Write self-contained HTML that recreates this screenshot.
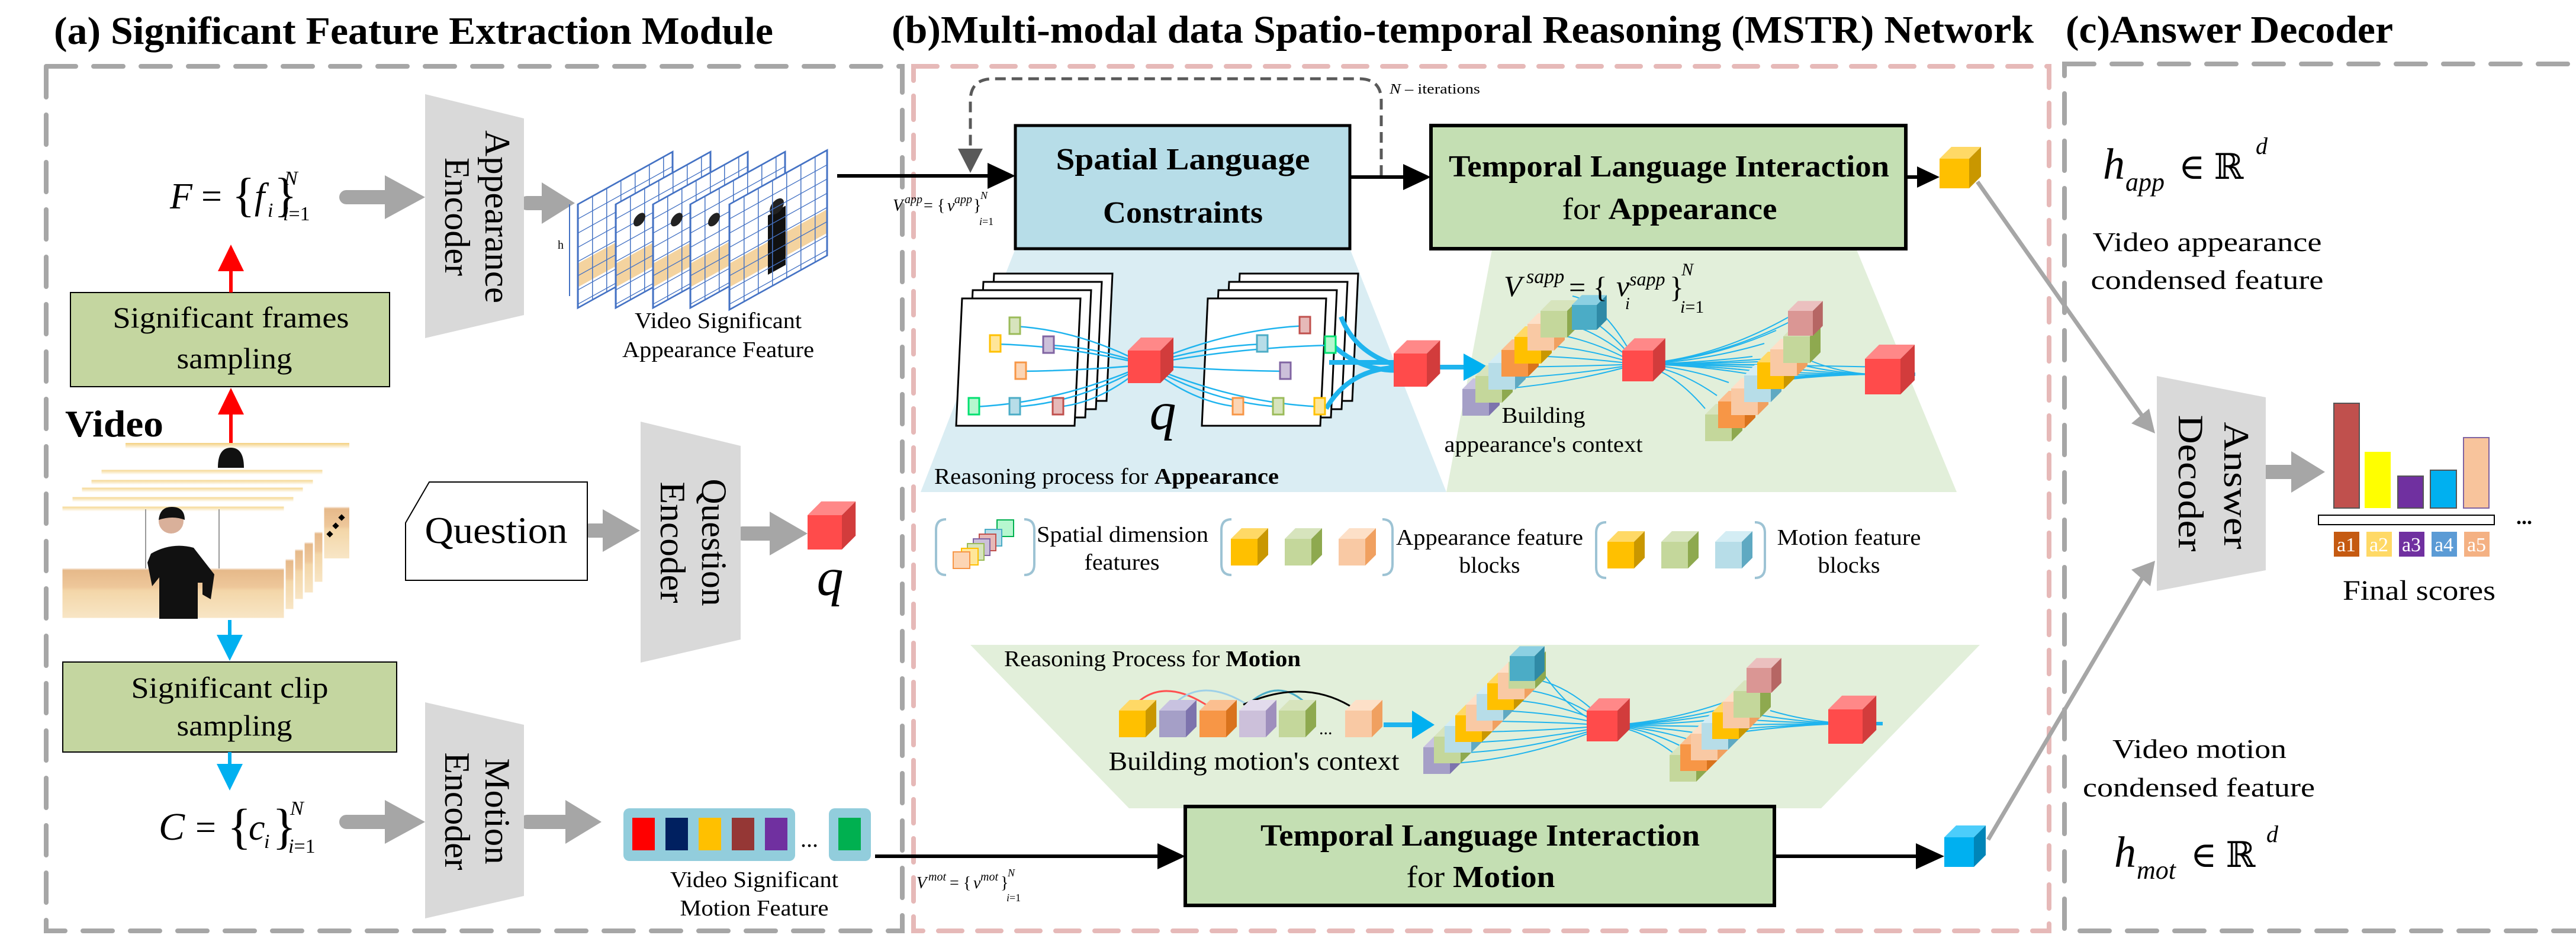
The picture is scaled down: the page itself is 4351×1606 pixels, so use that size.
<!DOCTYPE html>
<html><head><meta charset="utf-8"><style>
html,body{margin:0;padding:0;background:#fff;}
svg{display:block;}
svg text{font-family:"Liberation Serif","Times New Roman","DejaVu Serif",serif;fill:#000;}
</style></head><body>
<svg id="s" xmlns="http://www.w3.org/2000/svg" width="4351" height="1606" viewBox="0 0 4351 1606" font-family="Liberation Serif, Times New Roman, serif">
<defs>
<pattern id="grid" width="24" height="24" patternUnits="userSpaceOnUse"><rect width="24" height="24" fill="none"/><path d="M0 0H24M0 0V24" stroke="#4472c4" stroke-width="3"/></pattern>
<linearGradient id="floor" x1="0" y1="0" x2="0" y2="1"><stop offset="0" stop-color="#f3cf7d"/><stop offset="0.05" stop-color="#fff"/><stop offset="0.55" stop-color="#fff"/><stop offset="0.57" stop-color="#e6b98a"/><stop offset="0.72" stop-color="#eec79a"/><stop offset="0.75" stop-color="#f3d6a8"/><stop offset="1" stop-color="#f8e6c6"/></linearGradient>
</defs>

<!-- Titles -->
<text x="91" y="74" font-size="66" font-weight="bold" textLength="1215" lengthAdjust="spacingAndGlyphs">(a) Significant Feature Extraction Module</text>
<text x="1506" y="72" font-size="66" font-weight="bold" textLength="1929" lengthAdjust="spacingAndGlyphs">(b)Multi-modal data Spatio-temporal Reasoning (MSTR) Network</text>
<text x="3489" y="72" font-size="66" font-weight="bold" textLength="553" lengthAdjust="spacingAndGlyphs">(c)Answer Decoder</text>

<!-- dashed boxes -->
<rect x="78" y="112" width="1446" height="1460" fill="none" stroke="#a6a6a6" stroke-width="8" stroke-dasharray="50 30" stroke-linecap="round"/>
<rect x="1543" y="112" width="1918" height="1460" fill="none" stroke="#e6b9b8" stroke-width="8" stroke-dasharray="40 26" stroke-linecap="round"/>
<rect x="3487" y="108" width="1826" height="1464" fill="none" stroke="#a6a6a6" stroke-width="8" stroke-dasharray="50 30" stroke-linecap="round"/>

<!-- reasoning backgrounds -->
<polygon points="1715,420 2280,420 2443,831 1555,831" fill="#daedf3"/>
<polygon points="2520,422 3136,422 3305,831 2443,831" fill="#e2efda"/>
<polygon points="1639,1089 3344,1089 3076,1365 1907,1365" fill="#e2efda"/>

<!-- (a) left -->
<text x="287" y="352" font-size="62" font-style="italic">F</text>
<text x="340" y="352" font-size="62">=</text>
<text x="392" y="356" font-size="80">{</text>
<text x="430" y="352" font-size="62" font-style="italic">f</text>
<text x="452" y="366" font-size="34" font-style="italic">i</text>
<text x="463" y="356" font-size="80">}</text>
<text x="480" y="312" font-size="34" font-style="italic">N</text>
<text x="478" y="372" font-size="34"><tspan font-style="italic">i</tspan>=1</text>

<g fill="#a6a6a6" stroke="#a6a6a6">
<line x1="585" y1="333" x2="655" y2="333" stroke-width="24" stroke-linecap="round"/><polygon points="650,296 718,333 650,370" stroke="none"/>
<line x1="890" y1="343" x2="920" y2="343" stroke-width="24" stroke-linecap="round"/><polygon points="915,308 971,343 915,378" stroke="none"/>
<line x1="996" y1="896" x2="1024" y2="896" stroke-width="24" stroke-linecap="round"/><polygon points="1018,860 1081,896 1018,932" stroke="none"/>
<line x1="1254" y1="901" x2="1305" y2="901" stroke-width="24" stroke-linecap="round"/><polygon points="1300,864 1364,901 1300,938" stroke="none"/>
<line x1="585" y1="1388" x2="655" y2="1388" stroke-width="24" stroke-linecap="round"/><polygon points="650,1351 718,1388 650,1425" stroke="none"/>
<line x1="890" y1="1388" x2="960" y2="1388" stroke-width="24" stroke-linecap="round"/><polygon points="955,1351 1016,1388 955,1425" stroke="none"/>
<line x1="3828" y1="797" x2="3875" y2="797" stroke-width="24" stroke-linecap="round"/><polygon points="3870,762 3927,797 3870,832" stroke="none"/>
</g>

<!-- encoders -->
<polygon points="718,159 885,200 885,532 718,571" fill="#d9d9d9"/>
<text transform="translate(820,366) rotate(90)" font-size="60" text-anchor="middle" textLength="292" lengthAdjust="spacingAndGlyphs">Appearance</text>
<text transform="translate(752,366) rotate(90)" font-size="60" text-anchor="middle" textLength="200" lengthAdjust="spacingAndGlyphs">Encoder</text>
<polygon points="1082,712 1251,753 1251,1080 1082,1119" fill="#d9d9d9"/>
<text transform="translate(1186,916) rotate(90)" font-size="60" text-anchor="middle" textLength="215" lengthAdjust="spacingAndGlyphs">Question</text>
<text transform="translate(1116,916) rotate(90)" font-size="60" text-anchor="middle" textLength="205" lengthAdjust="spacingAndGlyphs">Encoder</text>
<polygon points="718,1186 885,1224 885,1513 718,1551" fill="#d9d9d9"/>
<text transform="translate(820,1370) rotate(90)" font-size="60" text-anchor="middle" textLength="179" lengthAdjust="spacingAndGlyphs">Motion</text>
<text transform="translate(752,1370) rotate(90)" font-size="60" text-anchor="middle" textLength="199" lengthAdjust="spacingAndGlyphs">Encoder</text>
<polygon points="3643,635 3827,671 3827,963 3643,998" fill="#d9d9d9"/>
<text transform="translate(3757,820) rotate(90)" font-size="60" text-anchor="middle" textLength="215" lengthAdjust="spacingAndGlyphs">Answer</text>
<text transform="translate(3680,816) rotate(90)" font-size="60" text-anchor="middle" textLength="231" lengthAdjust="spacingAndGlyphs">Decoder</text>

<!-- sampling boxes -->
<rect x="119" y="494" width="539" height="159" fill="#c4d6a0" stroke="#000" stroke-width="2"/>
<text x="390" y="553" font-size="50" text-anchor="middle" textLength="399" lengthAdjust="spacingAndGlyphs">Significant frames</text>
<text x="396" y="622" font-size="50" text-anchor="middle" textLength="195" lengthAdjust="spacingAndGlyphs">sampling</text>
<rect x="106" y="1118" width="564" height="152" fill="#c4d6a0" stroke="#000" stroke-width="2"/>
<text x="388" y="1178" font-size="50" text-anchor="middle" textLength="333" lengthAdjust="spacingAndGlyphs">Significant clip</text>
<text x="396" y="1242" font-size="50" text-anchor="middle" textLength="195" lengthAdjust="spacingAndGlyphs">sampling</text>

<!-- red arrows -->
<g stroke="#ff0000" stroke-width="6" fill="#ff0000">
<line x1="390" y1="748" x2="390" y2="690"/><polygon points="368,700 390,655 412,700" stroke="none"/>
<line x1="390" y1="494" x2="390" y2="450"/><polygon points="368,458 390,413 412,458" stroke="none"/>
</g>
<g stroke="#00b0f0" stroke-width="6" fill="#00b0f0">
<line x1="388" y1="1047" x2="388" y2="1080"/><polygon points="366,1072 388,1116 410,1072" stroke="none"/>
<line x1="388" y1="1270" x2="388" y2="1300"/><polygon points="366,1290 388,1335 410,1290" stroke="none"/>
</g>
<text x="110" y="737" font-size="64" font-weight="bold" textLength="166" lengthAdjust="spacingAndGlyphs">Video</text>

<!-- video frames stack -->
<g>
<rect x="212" y="748" width="378" height="195" fill="url(#floor)"/>
<path d="M368 790 q0 -34 22 -34 q22 0 22 34 z" fill="#111"/>
<rect x="170" y="792" width="376" height="192" fill="url(#floor)" stroke="#fff" stroke-width="3"/>
<rect x="153" y="809" width="377" height="193" fill="url(#floor)" stroke="#fff" stroke-width="3"/>
<rect x="137" y="822" width="376" height="191" fill="url(#floor)" stroke="#fff" stroke-width="3"/>
<rect x="121" y="838" width="376" height="192" fill="url(#floor)" stroke="#fff" stroke-width="3"/>
<rect x="104" y="854" width="377" height="191" fill="url(#floor)" stroke="#fff" stroke-width="3"/>
<g stroke="#999" stroke-width="2"><line x1="246" y1="860" x2="246" y2="960"/><line x1="370" y1="860" x2="370" y2="960"/></g>
<circle cx="289" cy="880" r="21" fill="#d9b09a"/>
<path d="M268 878 q2 -22 22 -22 q22 0 22 22 q-20 -8 -44 0 z" fill="#111"/>
<path d="M255 935 q35 -20 72 -10 l35 45 l-6 42 l-14 -8 v-20 l-8 0 v61 h-65 v-70 l-12 15 l-8 -40 z" fill="#111"/>
<g fill="#000"><rect x="573" y="870" width="8" height="8" transform="rotate(45 577 874)"/><rect x="563" y="884" width="8" height="8" transform="rotate(45 567 888)"/><rect x="553" y="898" width="8" height="8" transform="rotate(45 557 902)"/></g>
</g>

<!-- video feature grid frames -->
<g>
<g transform="translate(976,345) skewY(-29)"><rect width="160" height="175" fill="#fff"/><rect y="100" width="160" height="40" fill="#f4d39f"/><rect width="160" height="175" fill="url(#grid)" stroke="#4472c4" stroke-width="3"/></g>
<g transform="translate(1040,345) skewY(-29)"><rect width="160" height="175" fill="#fff"/><rect y="100" width="160" height="40" fill="#f4d39f"/><rect width="160" height="175" fill="url(#grid)" stroke="#4472c4" stroke-width="3"/><circle cx="40" cy="48" r="10" fill="#222"/></g>
<g transform="translate(1103,345) skewY(-29)"><rect width="160" height="175" fill="#fff"/><rect y="100" width="160" height="40" fill="#f4d39f"/><rect width="160" height="175" fill="url(#grid)" stroke="#4472c4" stroke-width="3"/><circle cx="40" cy="48" r="10" fill="#222"/></g>
<g transform="translate(1166,345) skewY(-29)"><rect width="160" height="175" fill="#fff"/><rect y="100" width="160" height="40" fill="#f4d39f"/><rect width="160" height="175" fill="url(#grid)" stroke="#4472c4" stroke-width="3"/><circle cx="40" cy="48" r="10" fill="#222"/></g>
<g transform="translate(1232,345) skewY(-29)"><rect width="165" height="178" fill="#fff"/><rect y="100" width="165" height="40" fill="#f4d39f"/><rect x="65" y="55" width="30" height="100" fill="#111"/><circle cx="80" cy="48" r="12" fill="#222"/><rect width="165" height="178" fill="url(#grid)" stroke="#4472c4" stroke-width="3"/></g>
<line x1="962" y1="345" x2="962" y2="500" stroke="#4472c4" stroke-width="2"/>
<text x="942" y="420" font-size="20">h</text>
</g>
<text x="1213" y="554" font-size="38" text-anchor="middle" textLength="282" lengthAdjust="spacingAndGlyphs">Video Significant</text>
<text x="1213" y="603" font-size="38" text-anchor="middle" textLength="324" lengthAdjust="spacingAndGlyphs">Appearance Feature</text>

<!-- Question -->
<polygon points="725,814 992,814 992,980 685,980 685,883" fill="#fff" stroke="#000" stroke-width="2"/>
<text x="838" y="917" font-size="64" text-anchor="middle" textLength="241" lengthAdjust="spacingAndGlyphs">Question</text>
<text x="1402" y="1005" font-size="90" font-style="italic" text-anchor="middle">q</text>

<!-- C formula -->
<text x="268" y="1418" font-size="66" font-style="italic">C</text>
<text x="330" y="1418" font-size="62">=</text>
<text x="384" y="1424" font-size="84">{</text>
<text x="420" y="1418" font-size="62" font-style="italic">c</text>
<text x="446" y="1432" font-size="34" font-style="italic">i</text>
<text x="460" y="1424" font-size="84">}</text>
<text x="490" y="1376" font-size="34" font-style="italic">N</text>
<text x="487" y="1440" font-size="34"><tspan font-style="italic">i</tspan>=1</text>

<!-- motion feature bar -->
<rect x="1053" y="1365" width="290" height="89" rx="10" fill="#92cddc"/>
<rect x="1068" y="1381" width="38" height="55" fill="#ff0000"/>
<rect x="1124" y="1381" width="38" height="55" fill="#002060"/>
<rect x="1180" y="1381" width="38" height="55" fill="#ffc000"/>
<rect x="1236" y="1381" width="38" height="55" fill="#953735"/>
<rect x="1292" y="1381" width="38" height="55" fill="#7030a0"/>
<text x="1352" y="1430" font-size="40">...</text>
<rect x="1400" y="1365" width="71" height="89" rx="10" fill="#92cddc"/>
<rect x="1416" y="1381" width="38" height="55" fill="#00b050"/>
<text x="1274" y="1498" font-size="38" text-anchor="middle" textLength="284" lengthAdjust="spacingAndGlyphs">Video Significant</text>
<text x="1274" y="1546" font-size="38" text-anchor="middle" textLength="251" lengthAdjust="spacingAndGlyphs">Motion Feature</text>

<!-- (b) arrows and boxes -->
<line x1="1414" y1="297" x2="1680" y2="297" stroke="#000" stroke-width="6"/>
<polygon points="1668,275 1715,297 1668,319" fill="#000"/>
<text x="1508" y="356" font-size="28" font-style="italic">V</text>
<text x="1528" y="343" font-size="20" font-style="italic">app</text>
<text x="1560" y="356" font-size="28">= {</text>
<text x="1600" y="356" font-size="28" font-style="italic">v</text>
<text x="1612" y="343" font-size="20" font-style="italic">app</text>
<text x="1644" y="356" font-size="28">}</text>
<text x="1656" y="336" font-size="18" font-style="italic">N</text>
<text x="1654" y="380" font-size="18"><tspan font-style="italic">i</tspan>=1</text>

<path d="M2333 297 V170 Q2333 133 2295 133 H1678 Q1639 133 1639 170 V255" fill="none" stroke="#595959" stroke-width="5" stroke-dasharray="18 10"/>
<polygon points="1618,251 1660,251 1639,292" fill="#595959"/>
<text x="2347" y="158" font-size="24" textLength="153" lengthAdjust="spacingAndGlyphs"><tspan font-style="italic">N</tspan> – iterations</text>

<rect x="1715" y="212" width="565" height="208" fill="#b7dde8" stroke="#000" stroke-width="5"/>
<text x="1998" y="286" font-size="52" font-weight="bold" text-anchor="middle" textLength="429" lengthAdjust="spacingAndGlyphs">Spatial Language</text>
<text x="1998" y="376" font-size="52" font-weight="bold" text-anchor="middle" textLength="270" lengthAdjust="spacingAndGlyphs">Constraints</text>
<line x1="2280" y1="299" x2="2380" y2="299" stroke="#000" stroke-width="6"/>
<polygon points="2370,277 2417,299 2370,321" fill="#000"/>
<rect x="2417" y="212" width="802" height="208" fill="#c4dfb3" stroke="#000" stroke-width="6"/>
<text x="2819" y="298" font-size="52" font-weight="bold" text-anchor="middle" textLength="744" lengthAdjust="spacingAndGlyphs">Temporal Language Interaction</text>
<text x="2820" y="370" font-size="52" text-anchor="middle" textLength="363" lengthAdjust="spacingAndGlyphs">for <tspan font-weight="bold">Appearance</tspan></text>
<line x1="3219" y1="299" x2="3245" y2="299" stroke="#000" stroke-width="6"/>
<polygon points="3238,281 3276,299 3238,317" fill="#000"/>

<rect x="2002" y="1362" width="995" height="167" fill="#c4dfb3" stroke="#000" stroke-width="6"/>
<text x="2500" y="1428" font-size="52" font-weight="bold" text-anchor="middle" textLength="742" lengthAdjust="spacingAndGlyphs">Temporal Language Interaction</text>
<text x="2501" y="1498" font-size="52" text-anchor="middle" textLength="251" lengthAdjust="spacingAndGlyphs">for <tspan font-weight="bold">Motion</tspan></text>
<line x1="1478" y1="1446" x2="1960" y2="1446" stroke="#000" stroke-width="6"/>
<polygon points="1955,1424 2002,1446 1955,1468" fill="#000"/>
<text x="1548" y="1500" font-size="28" font-style="italic">V</text>
<text x="1568" y="1487" font-size="20" font-style="italic">mot</text>
<text x="1604" y="1500" font-size="28">= {</text>
<text x="1644" y="1500" font-size="28" font-style="italic">v</text>
<text x="1656" y="1487" font-size="20" font-style="italic">mot</text>
<text x="1690" y="1500" font-size="28">}</text>
<text x="1702" y="1480" font-size="18" font-style="italic">N</text>
<text x="1700" y="1522" font-size="18"><tspan font-style="italic">i</tspan>=1</text>
<line x1="2997" y1="1446" x2="3240" y2="1446" stroke="#000" stroke-width="6"/>
<polygon points="3236,1424 3284,1446 3236,1468" fill="#000"/>

<!-- gray connectors to decoder -->
<line x1="3340" y1="307" x2="3625" y2="712" stroke="#a6a6a6" stroke-width="7"/>
<polygon points="3600,715 3640,732 3630,690" fill="#a6a6a6"/>
<line x1="3358" y1="1418" x2="3625" y2="965" stroke="#a6a6a6" stroke-width="7"/>
<polygon points="3600,962 3640,947 3632,990" fill="#a6a6a6"/>

<g id="frames" stroke="#000" stroke-width="3" fill="#fff"></g>
<g id="lines" fill="none" stroke="#1fb4ee" stroke-width="2.5"></g>
<g id="cubes"></g>

<text x="1964" y="725" font-size="90" font-style="italic" text-anchor="middle">q</text>
<text x="1578" y="817" font-size="38" textLength="582" lengthAdjust="spacingAndGlyphs">Reasoning process for <tspan font-weight="bold">Appearance</tspan></text>
<text x="2540" y="500" font-size="50" font-style="italic">V</text>
<text x="2578" y="478" font-size="34" font-style="italic">sapp</text>
<text x="2650" y="502" font-size="50">= {</text>
<text x="2730" y="500" font-size="50" font-style="italic">v</text>
<text x="2752" y="482" font-size="32" font-style="italic">sapp</text>
<text x="2745" y="522" font-size="28" font-style="italic">i</text>
<text x="2820" y="502" font-size="50">}</text>
<text x="2840" y="465" font-size="30" font-style="italic">N</text>
<text x="2838" y="528" font-size="30"><tspan font-style="italic">i</tspan>=1</text>
<text x="2607" y="714" font-size="38" text-anchor="middle" textLength="141" lengthAdjust="spacingAndGlyphs">Building</text>
<text x="2607" y="763" font-size="38" text-anchor="middle" textLength="335" lengthAdjust="spacingAndGlyphs">appearance's context</text>

<!-- legend -->
<g fill="none" stroke="#9dc3d4" stroke-width="4">
<path d="M1598 877 Q1581 877 1581 895 V953 Q1581 971 1598 971"/><path d="M1730 877 Q1747 877 1747 895 V953 Q1747 971 1730 971"/>
<path d="M2080 877 Q2063 877 2063 895 V953 Q2063 971 2080 971"/><path d="M2335 877 Q2352 877 2352 895 V953 Q2352 971 2335 971"/>
<path d="M2713 882 Q2696 882 2696 900 V958 Q2696 976 2713 976"/><path d="M2964 882 Q2981 882 2981 900 V958 Q2981 976 2964 976"/>
</g>
<g stroke-width="2">
<rect x="1684" y="878" width="28" height="28" fill="#b6f7cf" stroke="#00b050"/>
<rect x="1664" y="894" width="28" height="28" fill="#b7dde8" stroke="#4bacc6"/>
<rect x="1654" y="902" width="28" height="28" fill="#e6b9b8" stroke="#c0504d"/>
<rect x="1644" y="910" width="28" height="28" fill="#ccc0da" stroke="#8064a2"/>
<rect x="1634" y="918" width="28" height="28" fill="#d7e4bd" stroke="#9bbb59"/>
<rect x="1624" y="926" width="28" height="28" fill="#ffe699" stroke="#ffc000"/>
<rect x="1610" y="932" width="28" height="28" fill="#fcd5b4" stroke="#f79646"/>
</g>
<text x="1896" y="915" font-size="38" text-anchor="middle" textLength="290" lengthAdjust="spacingAndGlyphs">Spatial dimension</text>
<text x="1895" y="962" font-size="38" text-anchor="middle" textLength="127" lengthAdjust="spacingAndGlyphs">features</text>
<text x="2516" y="920" font-size="38" text-anchor="middle" textLength="316" lengthAdjust="spacingAndGlyphs">Appearance feature</text>
<text x="2516" y="967" font-size="38" text-anchor="middle" textLength="103" lengthAdjust="spacingAndGlyphs">blocks</text>
<text x="3123" y="920" font-size="38" text-anchor="middle" textLength="243" lengthAdjust="spacingAndGlyphs">Motion feature</text>
<text x="3123" y="967" font-size="38" text-anchor="middle" textLength="105" lengthAdjust="spacingAndGlyphs">blocks</text>

<text x="1696" y="1125" font-size="38" textLength="501" lengthAdjust="spacingAndGlyphs">Reasoning Process for <tspan font-weight="bold">Motion</tspan></text>
<text x="2118" y="1300" font-size="44" text-anchor="middle" textLength="491" lengthAdjust="spacingAndGlyphs">Building motion's context</text>
<text x="2228" y="1240" font-size="30">...</text>

<!-- (c) -->
<text x="3552" y="302" font-size="74" font-style="italic">h</text>
<text x="3590" y="322" font-size="44" font-style="italic">app</text>
<text x="3680" y="302" font-size="60">∈ ℝ</text>
<text x="3810" y="260" font-size="40" font-style="italic">d</text>
<text x="3728" y="424" font-size="46" text-anchor="middle" textLength="387" lengthAdjust="spacingAndGlyphs">Video appearance</text>
<text x="3728" y="488" font-size="46" text-anchor="middle" textLength="393" lengthAdjust="spacingAndGlyphs">condensed feature</text>
<text x="3715" y="1280" font-size="46" text-anchor="middle" textLength="294" lengthAdjust="spacingAndGlyphs">Video motion</text>
<text x="3714" y="1345" font-size="46" text-anchor="middle" textLength="392" lengthAdjust="spacingAndGlyphs">condensed feature</text>
<text x="3571" y="1464" font-size="74" font-style="italic">h</text>
<text x="3609" y="1484" font-size="44" font-style="italic">mot</text>
<text x="3700" y="1464" font-size="60">∈ ℝ</text>
<text x="3828" y="1422" font-size="40" font-style="italic">d</text>

<g stroke="#555" stroke-width="2">
<rect x="3942" y="681" width="43" height="177" fill="#c0504d"/>
<rect x="3994" y="763" width="44" height="95" fill="#ffff00" stroke="none"/>
<rect x="4050" y="804" width="43" height="54" fill="#7030a0"/>
<rect x="4105" y="794" width="44" height="64" fill="#00b0f0"/>
<rect x="4161" y="739" width="43" height="119" fill="#f8c49c" stroke="#8064a2"/>
<rect x="3916" y="870" width="297" height="16" fill="#fff" stroke="#000"/>
</g>
<rect x="3942" y="898" width="43" height="42" fill="#c55a11"/>
<rect x="3997" y="898" width="43" height="42" fill="#ffd966"/>
<rect x="4052" y="898" width="43" height="42" fill="#7030a0"/>
<rect x="4107" y="898" width="43" height="42" fill="#5b9bd5"/>
<rect x="4162" y="898" width="43" height="42" fill="#f4b183"/>
<text x="3963" y="931" font-size="34" text-anchor="middle" style="fill:#fff">a1</text>
<text x="4018" y="931" font-size="34" text-anchor="middle" style="fill:#fff">a2</text>
<text x="4073" y="931" font-size="34" text-anchor="middle" style="fill:#fff">a3</text>
<text x="4128" y="931" font-size="34" text-anchor="middle" style="fill:#fff">a4</text>
<text x="4183" y="931" font-size="34" text-anchor="middle" style="fill:#fff">a5</text>
<text x="4250" y="885" font-size="36" font-weight="bold">...</text>
<text x="4086" y="1013" font-size="48" text-anchor="middle" textLength="258" lengthAdjust="spacingAndGlyphs">Final scores</text>
</svg>
<script>
var NS="http://www.w3.org/2000/svg";
function el(p,t,a){var e=document.createElementNS(NS,t);for(var k in a)e.setAttribute(k,a[k]);p.appendChild(e);return e;}
var C=document.getElementById("cubes"),L=document.getElementById("lines"),F=document.getElementById("frames");
var pal={r:["#ff4b4b","#f88","#d23c3c"],y:["#ffc000","#ffd966","#c99700"],g:["#c4d79b","#d7e4bd","#8ea94f"],p:["#f9c9a4","#fde0c8","#f0a060"],b:["#b7dde8","#d4edf4","#5fa9c2"],db:["#4bacc6","#8cd0e2","#2f8aa6"],l:["#a59fc7","#c8c2e0","#7d73ad"],o:["#f79646","#fbbf90","#d9731d"],ll:["#ccc0da","#e2dbec","#9f8fbd"],pk:["#da9694","#ebc0bf","#b66664"],sb:["#00b0f0","#4ccdfb","#0085b8"]};
function cube(x,y,s,c){var k=pal[c],d=s*0.4;
el(C,"rect",{x:x,y:y,width:s,height:s,fill:k[0]});
el(C,"polygon",{points:[x,y,x+d,y-d,x+s+d,y-d,x+s,y].join(","),fill:k[1]});
el(C,"polygon",{points:[x+s,y,x+s+d,y-d,x+s+d,y+s-d,x+s,y+s].join(","),fill:k[2]});}
function curve(x1,y1,x2,y2,w){el(L,"path",{d:"M"+x1+" "+y1+" Q"+((x1+x2)/2)+" "+(y1+(y2-y1)*0.1)+" "+x2+" "+y2,"stroke-width":w||2.5});}
function stack(x,y){for(var i=3;i>=0;i--){var ox=x+i*18,oy=y-i*14;el(F,"polygon",{points:[ox+10,oy,ox+210,oy,ox+200,oy+215,ox,oy+215].join(",")});}}
stack(1615,504);stack(2030,504);
var sq=[[1705,536,"#d7e4bd","#9bbb59"],[1672,566,"#ffe699","#ffc000"],[1762,568,"#ccc0da","#8064a2"],[1715,612,"#fcd5b4","#f79646"],[1636,672,"#b6f7cf","#00e070"],[1705,672,"#b7dde8","#4bacc6"],[1778,672,"#e6b9b8","#c0504d"],
[2195,535,"#e6b9b8","#c0504d"],[2123,566,"#b7dde8","#4bacc6"],[2238,568,"#b6f7cf","#00e070"],[2162,612,"#ccc0da","#8064a2"],[2082,672,"#fcd5b4","#f79646"],[2150,672,"#d7e4bd","#9bbb59"],[2220,672,"#ffe699","#ffc000"]];
sq.forEach(function(q){curve(q[0]+10,q[1]+15,1935,616);});
cube(1905,592,55,"r");
sq.forEach(function(q){el(C,"rect",{x:q[0],y:q[1],width:18,height:28,fill:q[2],stroke:q[3],"stroke-width":3});});
el(L,"path",{d:"M2265 535 Q2290 600 2370 620","stroke-width":8});
el(L,"path",{d:"M2248 580 Q2300 630 2370 625","stroke-width":8});
el(L,"path",{d:"M2240 690 Q2280 620 2370 620","stroke-width":8});
el(L,"path",{d:"M2245 612 H2370","stroke-width":8});
cube(2354,597,56,"r");
el(L,"path",{d:"M2420 620 H2480","stroke-width":8});
el(C,"polygon",{points:"2472,597 2514,620 2472,643",fill:"#00b0f0"});
function chain(x,y,dx,dy,s,cols){for(var i=0;i<cols.length;i++)cube(x+i*dx,y+i*dy,s,cols[i]);}
for(var i=0;i<9;i++){curve(2480+i*22,660-i*20,2765,615,2);}
for(var i=0;i<8;i++){curve(2765,615,2880+i*20,690-i*22,2);}
curve(2765,615,3030,540,2);curve(2765,615,3180,620,2);for(var i=0;i<6;i++)curve(2780,615,3050-i*10,600+i*8,2);
chain(2470,657,22,-22,45,["l","g","b","o","y","p","g"]);
cube(2655,515,42,"db");
cube(2740,592,52,"r");
chain(2880,700,22,-22,45,["g","o","p","b","y","p","g"]);
cube(3020,525,42,"pk");
for(var i=0;i<8;i++)curve(3160,632,3060-i*18,610+i*6,2);
cube(3150,606,60,"r");
el(L,"path",{d:"M3200 632 H3235","stroke-width":6});
var mc=[["y",1890],["l",1958],["o",2026],["ll",2093],["g",2160],["p",2272]];
mc.forEach(function(m){cube(m[1],1200,45,m[0]);});
el(L,"path",{d:"M1912 1196 Q1960 1140 2040 1192",stroke:"#ff5050","stroke-width":3});
el(L,"path",{d:"M1980 1192 Q2030 1140 2110 1192",stroke:"#9dd0e8","stroke-width":3});
el(L,"path",{d:"M2105 1192 Q2160 1140 2210 1192",stroke:"#4bacc6","stroke-width":3});
el(L,"path",{d:"M2100 1190 Q2200 1145 2280 1192",stroke:"#000","stroke-width":3});
el(L,"path",{d:"M2337 1224 H2390","stroke-width":8});
el(C,"polygon",{points:"2385,1200 2423,1224 2385,1248",fill:"#00b0f0"});
for(var i=0;i<9;i++)curve(2440+i*18,1290-i*18,2717,1225,2);
for(var i=0;i<8;i++)curve(2717,1225,2860+i*18,1300-i*18,2);
curve(2717,1225,2595,1120,2);curve(2717,1225,3000,1150,2);
chain(2404,1262,18,-18,45,["l","g","b","y","p","b","y","p","g"]);
cube(2550,1108,42,"db");
cube(2680,1200,52,"r");
chain(2820,1275,18,-18,45,["g","o","p","b","y","p","g"]);
cube(2950,1128,42,"pk");
for(var i=0;i<6;i++)curve(3125,1222,2990-i*15,1200+i*8,2);
cube(3088,1198,58,"r");
el(L,"path",{d:"M3150 1222 H3180","stroke-width":6});
cube(2079,910,45,"y");cube(2170,910,45,"g");cube(2261,910,45,"p");
cube(2715,915,45,"y");cube(2806,915,45,"g");cube(2897,915,45,"b");
cube(1364,870,58,"r");
cube(3276,268,50,"y");
cube(3284,1414,50,"sb");
</script>
</body></html>
